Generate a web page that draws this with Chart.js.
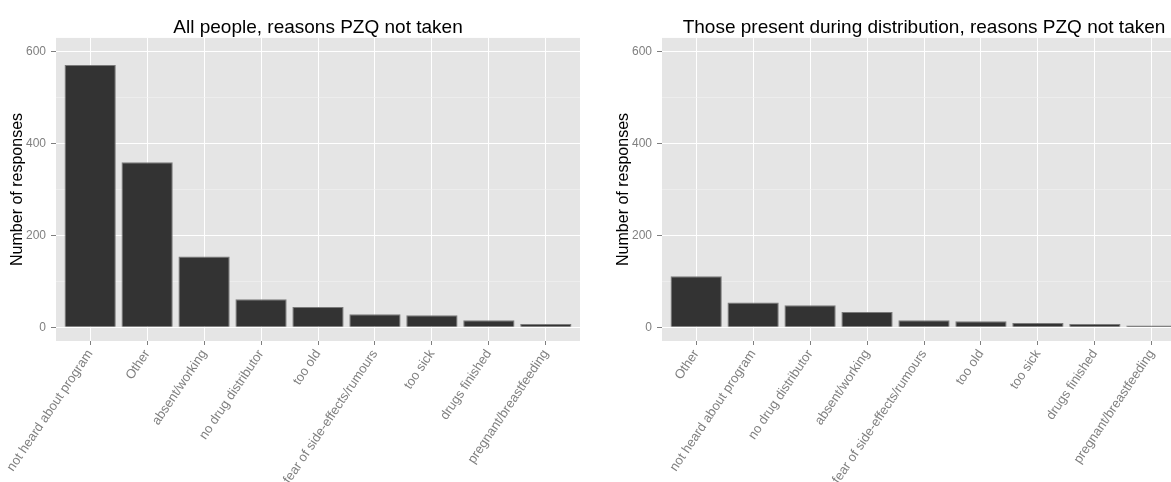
<!DOCTYPE html>
<html>
<head>
<meta charset="utf-8">
<script src="https://cdn.jsdelivr.net/npm/chart.js@4.4.1/dist/chart.umd.min.js"></script>
<style>
  html, body { margin: 0; padding: 0; background: #ffffff; width: 1171px; height: 482px; overflow: hidden; position: relative; }
  .panel { position: absolute; top: 0; width: 600px; height: 482px; }
  #panelAll { left: 0; }
  #panelPresent { left: 606px; }
</style>
</head>
<body>
<div class="panel" id="panelAll"><canvas id="chartAll" width="600" height="482"></canvas></div>
<div class="panel" id="panelPresent"><canvas id="chartPresent" width="600" height="482"></canvas></div>
<script>
// Reasons PZQ was not taken, all respondents (sorted by count)
const allCategories = [
  "not heard about program", "Other", "absent/working", "no drug distributor",
  "too old", "fear of side-effects/rumours", "too sick", "drugs finished",
  "pregnant/breastfeeding"
];
const allCounts = [571, 359, 154, 61, 44, 28, 26, 15, 7];

// Reasons PZQ was not taken, only those present during distribution
const presentCategories = [
  "Other", "not heard about program", "no drug distributor", "absent/working",
  "fear of side-effects/rumours", "too old", "too sick", "drugs finished",
  "pregnant/breastfeeding"
];
const presentCounts = [111, 54, 48, 33, 15, 13, 9, 7, 4];

// Shared y axis: gridlines every 100, labels every 200
const yGridValues = [0, 100, 200, 300, 400, 500, 600];
const yLabelValues = [0, 200, 400, 600];
const yMin = -30, yMax = 630;

const FONT = '"Liberation Sans", Arial, Helvetica, sans-serif';
const GREY_TEXT = '#7f7f7f';

// grey panel background behind the grid
const panelBackground = {
  id: 'panelBackground',
  beforeDraw(chart) {
    const { ctx, chartArea: a } = chart;
    ctx.save();
    ctx.fillStyle = '#e5e5e5';
    ctx.fillRect(a.left, a.top, a.right - a.left, a.bottom - a.top);
    ctx.restore();
  }
};

function isMajor(v) { return yLabelValues.includes(v); }

function makePanel(canvasId, titleText, categories, counts) {
  return new Chart(document.getElementById(canvasId), {
    type: 'bar',
    data: {
      datasets: [{
        data: counts.map((v, i) => ({ x: i, y: v })),
        backgroundColor: '#333333',
        borderColor: '#7a7a7a',
        borderWidth: 1,
        barPercentage: 0.9,
        categoryPercentage: 1.0
      }]
    },
    options: {
      responsive: false,
      animation: false,
      layout: { padding: { left: 0, right: 20, top: 0, bottom: 0 } },
      plugins: {
        legend: { display: false },
        tooltip: { enabled: false },
        title: {
          display: true,
          text: titleText,
          fullSize: false,
          color: '#000000',
          font: { family: FONT, size: 19, weight: 'normal', lineHeight: 1.1 },
          padding: { top: 17, bottom: 0 }
        }
      },
      scales: {
        x: {
          type: 'linear',
          offset: false,
          min: -0.6,
          max: categories.length - 1 + 0.6,
          afterBuildTicks: s => { s.ticks = categories.map((_, i) => ({ value: i })); },
          afterFit: s => { s.height = 141; },
          border: { display: false },
          grid: {
            offset: false,
            color: '#ffffff',
            lineWidth: 1,
            drawTicks: true,
            tickLength: 4,
            tickColor: GREY_TEXT,
            tickWidth: 1
          },
          ticks: {
            autoSkip: false,
            minRotation: 56,
            maxRotation: 56,
            padding: 2,
            color: GREY_TEXT,
            font: { family: FONT, size: 13 },
            callback: v => categories[v]
          }
        },
        y: {
          type: 'linear',
          min: yMin,
          max: yMax,
          afterBuildTicks: s => { s.ticks = yGridValues.map(v => ({ value: v })); },
          afterFit: s => { s.width = 56; },
          border: { display: false },
          title: {
            display: true,
            text: 'Number of responses',
            color: '#000000',
            font: { family: FONT, size: 16 },
            padding: { top: 8, bottom: 0 }
          },
          grid: {
            color: c => (c.tick && isMajor(c.tick.value)) ? '#ffffff' : '#f2f2f2',
            lineWidth: c => (c.tick && isMajor(c.tick.value)) ? 1 : 0.6,
            drawTicks: true,
            tickLength: 5,
            tickColor: c => (c.tick && isMajor(c.tick.value)) ? GREY_TEXT : 'rgba(0,0,0,0)',
            tickWidth: 1
          },
          ticks: {
            padding: 5,
            color: GREY_TEXT,
            font: { family: FONT, size: 12 },
            callback: v => isMajor(v) ? String(v) : ''
          }
        }
      }
    },
    plugins: [panelBackground]
  });
}

makePanel('chartAll', 'All people, reasons PZQ not taken', allCategories, allCounts);
makePanel('chartPresent', 'Those present during distribution, reasons PZQ not taken', presentCategories, presentCounts);
</script>
</body>
</html>
